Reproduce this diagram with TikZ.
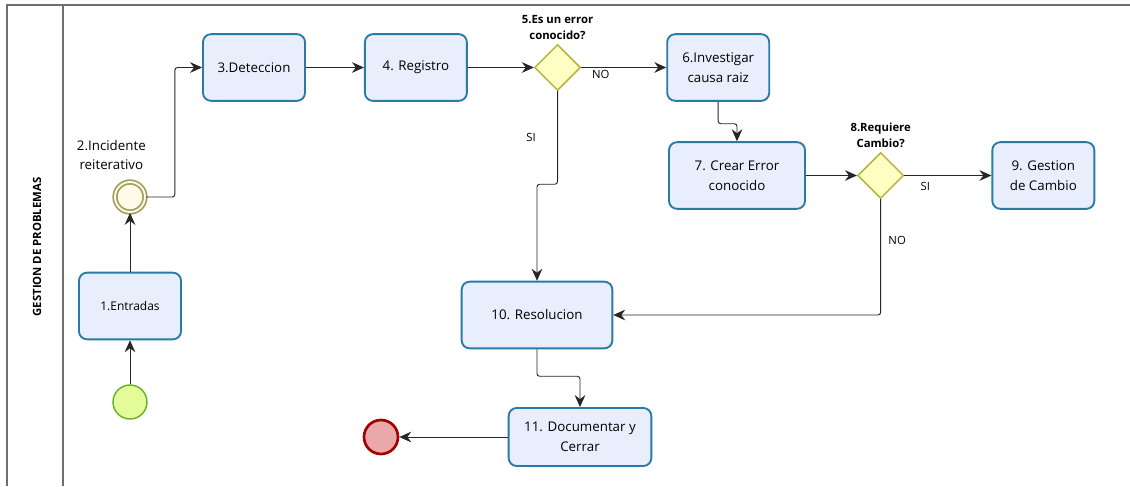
\documentclass[tikz,border=0pt]{standalone}
\usepackage{fontspec}
\setmainfont{Open Sans}
\usetikzlibrary{arrows.meta,positioning,shapes.geometric}

\definecolor{taskfill}{HTML}{E8EEFB}
\definecolor{taskline}{HTML}{2A7AA8}
\definecolor{gatefill}{HTML}{FFFFC4}
\definecolor{gateline}{HTML}{B4B43C}
\definecolor{startfill}{HTML}{E3FC9A}
\definecolor{startline}{HTML}{6DB02C}
\definecolor{midfill}{HTML}{FFFBEA}
\definecolor{midline}{HTML}{A39E5E}
\definecolor{endfill}{HTML}{EBA8A8}
\definecolor{endline}{HTML}{A00000}
\definecolor{lanegray}{HTML}{6E6E6E}

\begin{document}
\begin{tikzpicture}[x=0.75pt,y=-0.75pt,>={Stealth[length=9pt,width=8pt,inset=3pt]}]
	\tikzstyle{task} = [draw=taskline, fill=taskfill, line width=1.4pt, rounded corners=6pt, minimum width=76.5pt, minimum height=50pt, align=center, font=\fontsize{10}{15}\selectfont]
	\tikzstyle{gate} = [draw=gateline, fill=gatefill, line width=1.1pt, diamond, minimum size=34.5pt, inner sep=0pt]
	\tikzstyle{gatetxt} = [align=center, font=\bfseries\fontsize{8.5}{12}\selectfont, inner sep=1pt]
	\tikzstyle{flow} = [draw=black!85, line width=0.7pt, rounded corners=2pt]
	\tikzstyle{lbl} = [font=\fontsize{8.5}{10}\selectfont, inner sep=1pt]
	\useasboundingbox (0,0) rectangle (1130,486);

	% pool
	\draw [lanegray, line width=1.2pt] (7,486) -- (7,5) -- (1130,5);
	\draw [lanegray, line width=1.2pt] (63,5) -- (63,486);
	\node [rotate=90, font=\bfseries\fontsize{8.5}{10}\selectfont] (lane) at (37,247) {GESTION DE PROBLEMAS};

	% eventos
	\node [circle, draw=startline, fill=startfill, line width=1.1pt, minimum size=25.5pt, inner sep=0pt] (ini) at (130,402) {};
	\node [task, font=\fontsize{9}{14}\selectfont] (ent) at (130,306) {1.Entradas};
	\node [circle, draw=midline, fill=midfill, line width=1.3pt, double=midfill, double distance=1.4pt, minimum size=22.5pt, inner sep=0pt] (rei) at (130,197) {};
	\node [align=center, font=\fontsize{10}{14.5}\selectfont, above=5pt of rei, xshift=-14pt] (reitxt) {2.Incidente\\reiterativo};

	% fila superior
	\node [task] (det) at (254,67.5) {3.Deteccion};
	\node [task, right=43.5pt of det] (reg) {4. Registro};
	\node [gate, right=49.5pt of reg] (g5) {};
	\node [gatetxt, above=2pt of g5] (g5txt) {5.Es un error\\conocido?};
	\node [task, right=63.75pt of g5] (inv) {6.Investigar\\causa raiz};

	% fila media
	\node [task, minimum width=102pt] (crea) at (737,175.5) {7. Crear Error\\conocido};
	\node [gate, right=38.25pt of crea] (g8) {};
	\node [gatetxt, above=2pt of g8] (g8txt) {8.Requiere\\Cambio?};
	\node [task, right=65.25pt of g8] (ges) {9. Gestion\\de Cambio};

	% fila inferior
	\node [task, minimum width=113pt] (res) at (537,315) {10. Resolucion};
	\node [task, minimum width=107pt, minimum height=43.5pt] (doc) at (580,437) {11. Documentar y\\Cerrar};
	\node [circle, draw=endline, fill=endfill, line width=2pt, minimum size=25.5pt, inner sep=0pt] (fin) at (381,437) {};

	\draw [flow, ->] (ini) -- (ent);
	\draw [flow, ->] (ent) -- (rei);
	\draw [flow, ->] (rei.east) -- ++(29,0) |- (det);
	\draw [flow, ->] (det) -- (reg);
	\draw [flow, ->] (reg) -- (g5);
	\draw [flow, ->] (g5) -- node [lbl, pos=0.23, below=1pt] (no5) {NO} (inv);
	\draw [flow, ->] (inv.south) -- ++(0,22) -| (crea.north);
	\draw [flow, ->] (g5.south) -- node [lbl, left=15pt] (si5) {SI} ++(0,93) -| (res.north);
	\draw [flow, ->] (crea) -- (g8);
	\draw [flow, ->] (g8) -- node [lbl, pos=0.24, below=4pt] (si8) {SI} (ges);
	\draw [flow, ->] (g8.south) |- node [lbl, pos=0.18, right=4.5pt] (no8) {NO} (res.east);
	\draw [flow, ->] (res.south) -- ++(0,27) -| (doc.north);
	\draw [flow, ->] (doc) -- (fin);
\end{tikzpicture}
\end{document}
